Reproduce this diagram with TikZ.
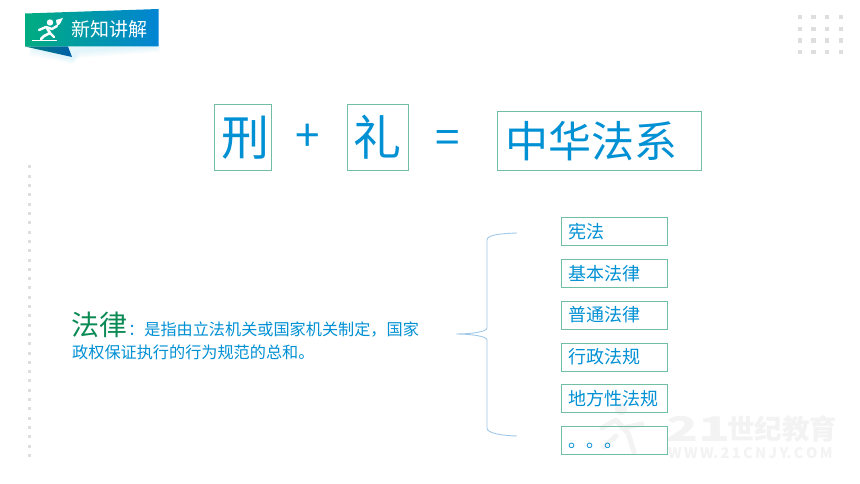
\documentclass[tikz,border=0pt]{standalone}
\usepackage{graphicx}
\usepackage{fontspec}
\newfontfamily\cjk{Noto Sans CJK SC}
\usetikzlibrary{calc}
\definecolor{txtblue}{RGB}{0,144,212}
\definecolor{boxgreen}{RGB}{112,190,164}
\definecolor{lawgreen}{RGB}{10,138,84}
\definecolor{dotgray}{RGB}{222,222,222}
\definecolor{bracecol}{RGB}{160,200,232}
\definecolor{wmark}{RGB}{243,243,243}
\tikzset{
  bigbox/.style={draw=boxgreen,line width=0.9pt,inner sep=0pt,text=txtblue,font=\cjk\fontsize{48}{48}\selectfont,anchor=north west},
  oper/.style={text=txtblue,inner sep=0pt,font=\cjk\fontsize{44}{44}\selectfont},
  lawbox/.style={draw=boxgreen,line width=1pt,anchor=north west,text width=92pt,inner xsep=7pt,inner ysep=0pt,minimum height=28pt,align=left,text=txtblue,font=\cjk\fontsize{18}{18}\selectfont},
  bodytxt/.style={anchor=west,inner sep=0pt,text=txtblue,font=\cjk\fontsize{16.15}{16}\selectfont},
  bracestyle/.style={draw=bracecol,line width=0.9pt},
  dot/.style={fill=dotgray,draw=none},
  runner/.style={draw=white,line cap=round,line join=round}
}
\begin{document}
\begin{tikzpicture}[x=1pt,y=-1pt]
\useasboundingbox (0,0) rectangle (860,484);
\fill[white] (0,0) rectangle (860,484);
% watermark
\node[anchor=west,inner sep=0pt,text=wmark,font=\cjk\bfseries\fontsize{34}{34}\selectfont] (wm1) at (666,429) {\scalebox{1.55}[1]{21}};
\node[anchor=west,inner sep=0pt,text=wmark,font=\cjk\bfseries\fontsize{27.5}{27.5}\selectfont] (wm2) at (727,429) {世纪教育};
\node[anchor=west,inner sep=0pt,text=wmark,font=\cjk\bfseries\fontsize{14.5}{14.5}\selectfont] (wm3) at (668,453) {W\,W\,W.\,2\,1\,C\,N\,J\,Y.\,C\,O\,M};
\fill[wmark] (621,409) circle (6);
\draw[wmark,line width=5pt,line cap=round,line join=round] (602,428) -- (616,420) -- (628,433) -- (634,452) (622,428) -- (642,424) (616,436) -- (604,447);
% dots
\foreach \x in {800,813.5,827,841}
  \foreach \y in {17,29,40.5,52}
    \fill[dot] (\x-2.3,\y-2.3) rectangle (\x+2.3,\y+2.3);
\foreach \i in {0,...,31}
  \fill[dot] (27.5,167+9.3*\i-1.5) rectangle (30.5,167+9.3*\i+1.5);
% banner glow
\foreach \g in {1,...,5}
  \fill[cyan,opacity=0.025] (34-\g,46) -- (155+\g,46) -- (155+\g,47+\g) -- (80,50+1.6*\g) -- (72,59+\g) -- (34-\g,48+1.5*\g) -- cycle;
% banner
\shade[left color={rgb,255:red,0;green,125;blue,125},right color={rgb,255:red,0;green,95;blue,170}] (25,46.5) -- (72,57) -- (68,46.5) -- cycle;
\shade[left color={rgb,255:red,0;green,172;blue,128},right color={rgb,255:red,0;green,132;blue,212}] (25,13.5) -- (158.5,9) -- (158.5,46.5) -- (25,46.5) -- cycle;
\node[anchor=west,inner sep=0pt,text=white,font=\cjk\fontsize{19}{19}\selectfont] (bantitle) at (71,29) {新知讲解};
% runner icon
\fill[white] (50,22.5) circle (3.2);
\draw[runner,line width=2.4pt] (39,30) -- (46,27) -- (52,29) -- (57,26);
\draw[runner,line width=2.6pt] (47,28) -- (50,33) -- (44,36) -- (41,39);
\draw[runner,line width=2.4pt] (50,33) -- (54,37);
\fill[white] (56,20) -- (63,18) -- (60,24) -- (57,26) -- cycle;
\draw[white,line width=0.7pt] (32,40) -- (57,40);
% equation
\node[bigbox,minimum width=57pt,minimum height=66pt] (xing) at (214,104) {\hspace{5pt}刑};
\node[oper] (plus) at (308,138) {+};
\node[bigbox,minimum width=61pt,minimum height=66pt] (li) at (347,104) {礼};
\node[oper] (eq) at (448,142) {=};
\node[bigbox,minimum width=204pt,minimum height=59pt,text width=196pt,align=left,inner xsep=4pt,inner ysep=0pt] (zhfx) at (497,111) {\fontsize{43}{43}\selectfont\hspace{4pt}中华法系};
% definition
\node[anchor=west,inner sep=0pt,text=lawgreen,font=\cjk\fontsize{28}{28}\selectfont] (falv) at (71.5,325) {法律};
\node[bodytxt] (def1) at (128,330) {：是指由立法机关或国家机关制定，国家};
\node[bodytxt] (def2) at (72,352) {政权保证执行的行为规范的总和。};
% right boxes
\node[lawbox] (b1) at (561,217) {宪法};
\node[lawbox] (b2) at (561,259) {基本法律};
\node[lawbox] (b3) at (561,300.5) {普通法律};
\node[lawbox] (b4) at (561,342.5) {行政法规};
\node[lawbox] (b5) at (561,384) {地方性法规};
\node[lawbox] (b6) at (561,425.5) {\vphantom{宪}\smash{\raisebox{-0.5pt}{。。。}}};
% brace
\coordinate (tip) at (456,334);
\coordinate (bt) at (517,233);
\coordinate (bb) at (517,436);
\draw[bracestyle] (bt) .. controls (500,233.5) and (487,235) .. (487,240)
  -- (487,328) .. controls (487,332) and (470,334) .. (tip)
  .. controls (470,334) and (487,336) .. (487,340)
  -- (487,428) .. controls (487,433) and (500,435.5) .. (bb);
\end{tikzpicture}
\end{document}
